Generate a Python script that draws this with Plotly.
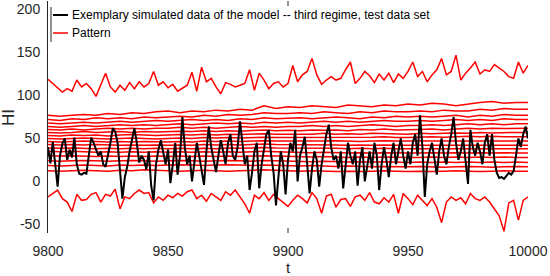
import plotly.graph_objects as go

# ---------------- data ----------------
t_black = list(range(9800, 10001))
black_values = [
    40, 21, 46, 20, -6, 30, 44, 50, 25, 37,
    28, 51, 20, 9, 8, 10, 9, 30, 51, 45,
    38, 30, 35, 20, 17, 30, 45, 62, 58, 45,
    14, -20, 5, 17, 35, 50, 62, 45, 22, 30,
    25, 14, 35, -5, -22, 20, 37, 48, 35, 20,
    37, -2, 20, 45, 8, 30, 75, 40, 20, 30,
    0, 25, 45, 30, 15, -4, 35, 64, 40, 25,
    11, 30, 48, 35, 20, 45, 55, 30, 25, 40,
    70, 45, 20, 30, -10, 10, 35, 45, -8, 20,
    40, 55, 60, 30, 10, -28, 5, 35, 20, -15,
    25, 45, 35, 60, 0, 30, 40, 52, 20, -14,
    15, 35, 25, -6, 20, 40, 55, 66, 40, 25,
    30, 15, 35, -8, 20, 45, 30, 20, 35, -5,
    25, 40, 0, 20, 35, 15, 45, 30, -10, 20,
    40, 25, 5, 30, 45, 20, 35, 50, 30, 15,
    35, 20, 45, 55, 30, 77, 40, -18, 20, 35,
    45, 25, 8, 35, 50, 30, 20, 40, 55, 75,
    45, 25, 35, 50, 20, -3, 60, 40, 30, 45,
    35, 20, 45, 55, 30, 55, 25, 10, 4, 5,
    3, 6, 10, 8, 12, 30, 50, 40, 55, 64,
    50,
]

t_step2 = list(range(9800, 10001, 2))
pattern_max = [
    119, 114, 108, 104, 108, 105, 118, 110, 114, 108,
    99, 112, 126, 110, 104, 112, 106, 115, 108, 116,
    110, 114, 128, 112, 116, 109, 113, 105, 108, 112,
    127, 105, 133, 116, 120, 110, 102, 115, 113, 110,
    112, 114, 130, 106, 126, 118, 108, 114, 116, 110,
    114, 135, 116, 124, 128, 143, 124, 113, 118, 122,
    118, 120, 130, 139, 114, 120, 128, 123, 115, 125,
    118, 126, 115, 125, 120, 128, 139, 122, 128, 116,
    124, 130, 143, 124, 128, 147, 118, 126, 132, 139,
    125, 130, 128, 136, 132, 128, 122, 120, 139, 126,
    135,
]
pattern_min = [
    -18, -14, -10, -20, -24, -35, -15, -22, -21, -15,
    -13, -24, -15, -17, -9, -32, -18, -20, -14, -10,
    -14, -13, -25, -18, -22, -16, -19, -14, -17, -12,
    -10, -20, -16, -23, -14, -18, -22, -12, -16, -10,
    -18, -26, -37, -16, -20, -13, -22, -15, -20, -24,
    -29, -22, -16, -20, -25, -13, -20, -37, -17, -15,
    -30, -21, -20, -29, -18, -16, -22, -13, -24, -26,
    -19, -24, -15, -37, -14, -20, -27, -16, -22, -28,
    -20, -30, -48, -24, -18, -22, -19, -26, -14, -20,
    -22, -18, -24, -32, -40, -58, -25, -22, -45, -22,
    -18,
]

t_step5 = list(range(9800, 10001, 5))
pattern_mid = [
    [77, 76, 77, 78, 77, 79, 78, 80, 79, 81, 82,
     80, 82, 81, 83, 82, 84, 83, 88, 85, 87,
     86, 88, 87, 86, 89, 88, 87, 89, 88, 90,
     89, 91, 90, 88, 90, 92, 93, 91, 92, 92],
    [72, 71, 73, 72, 74, 73, 74, 73, 75, 74, 75,
     76, 75, 77, 76, 78, 77, 78, 80, 79, 79,
     80, 79, 81, 80, 79, 81, 80, 82, 81, 81,
     82, 81, 83, 82, 82, 84, 83, 85, 84, 84],
    [68, 67, 68, 69, 68, 69, 70, 69, 70, 71, 70,
     71, 72, 71, 72, 71, 73, 72, 74, 73, 73.5,
     74, 73, 74, 75, 74, 73, 75, 74, 76, 75,
     76, 75, 76, 77, 75, 77, 76, 78, 77, 77],
    [64, 63, 64, 65, 64, 65, 66, 65, 66, 65, 66,
     67, 66, 67, 68, 67, 68, 67, 69, 68, 69,
     68, 69, 70, 69, 70, 69, 70, 71, 70, 70,
     71, 70, 71, 72, 71, 72, 71, 73, 72, 72],
    [60.5, 60, 61, 60, 61, 62, 61, 62, 61, 62, 62,
     63, 62, 63, 62, 63, 64, 63, 64, 63, 64,
     64, 65, 64, 65, 64, 65, 66, 65, 64, 65,
     65, 66, 65, 66, 67, 66, 67, 66, 67, 67],
    [57, 56.5, 57, 58, 57, 57.5, 58, 57, 58, 57.5, 58,
     58.5, 58, 59, 58, 59, 58.5, 59, 60, 59, 59.5,
     59, 60, 59.5, 60, 59, 60.5, 60, 61, 60, 60,
     60.5, 61, 60, 61, 62, 61, 62, 61.5, 62, 62],
    [53.5, 53, 54, 53.5, 54, 53, 54, 54.5, 54, 53.5, 54,
     54.5, 54, 55, 54, 55, 54.5, 55, 55.5, 55, 55,
     55.5, 55, 56, 55, 55.5, 55, 56, 55.5, 55, 55,
     56, 55.5, 56, 56.5, 56, 57, 56.5, 57, 57, 57],
    [50, 49.5, 50, 50.5, 50, 49.5, 50, 50.5, 50, 49.5, 50,
     50.5, 50, 51, 50.5, 51, 50.5, 51, 51.5, 51, 51,
     51.5, 51, 51.5, 51, 51.5, 51, 51.5, 52, 51, 51,
     51.5, 52, 51.5, 52, 52.5, 52, 52.5, 52, 52, 52],
    [46.5, 46, 46.5, 47, 46.5, 46, 46.5, 46, 46.5, 46, 46,
     46.5, 46, 47, 46.5, 47, 46.5, 47, 47.5, 47, 47,
     47, 46.5, 47, 47.5, 47, 46.5, 47, 47.5, 47, 47,
     47, 47.5, 47, 47.5, 47, 47.5, 47, 47.5, 47, 47],
    [43, 42.5, 43, 42.5, 43, 42.5, 42, 42.5, 42, 42.5, 42,
     42.5, 42, 43, 42.5, 43, 42.5, 43, 43.5, 43, 43,
     43, 42.5, 43, 42.5, 42, 42.5, 42, 42.5, 42, 42,
     42, 42.5, 42, 42.5, 42, 42.5, 42, 42.5, 42, 42],
    [39, 38.5, 39, 38.5, 38, 38.5, 38, 38.5, 38, 38.5, 38,
     38.5, 38, 38.5, 38, 39, 38.5, 39, 39.5, 39, 39,
     39, 38.5, 39, 38.5, 38, 38.5, 38, 38.5, 38, 38,
     38, 38.5, 38, 38.5, 38, 38.5, 38, 38.5, 38, 38],
    [35, 34.5, 35, 34.5, 34, 34.5, 34, 34.5, 34, 34.5, 34,
     34.5, 34, 34.5, 34, 34.5, 34, 34.5, 35, 34.5, 34,
     34, 33.5, 34, 33.5, 33, 33.5, 33, 33.5, 33, 33,
     33, 33.5, 33, 33.5, 33, 33.5, 33, 33.5, 33, 33],
    [30, 29.5, 30, 29.5, 29, 29.5, 29, 29.5, 29, 29.5, 29,
     29.5, 29, 29.5, 29, 29.5, 29, 29.5, 30, 29.5, 29,
     29, 28.5, 29, 28.5, 28, 28.5, 28, 28.5, 28, 28,
     28, 28.5, 28, 28.5, 28, 28.5, 28, 28.5, 28, 28],
    [24, 23.5, 24, 24.5, 24, 23.5, 24, 24.5, 24, 23.5, 24,
     24.5, 24, 23.5, 24, 24.5, 24, 23.5, 24.5, 24, 24,
     23.5, 23, 23.5, 23, 22.5, 23, 22.5, 23, 22.5, 22,
     22.5, 22, 22.5, 22, 22.5, 22, 22.5, 22, 22.5, 22],
    [18.5, 18, 18.5, 19, 18.5, 18, 19, 18.5, 19, 18.5, 19,
     19.5, 19, 18.5, 19, 19.5, 19, 18.5, 19, 18.5, 18.5,
     18, 18.5, 18, 17.5, 18, 17.5, 17, 17.5, 17, 17,
     17.5, 17, 16.5, 17, 17.5, 17, 16.5, 17, 17.5, 17],
    [12.5, 12, 12.5, 13, 12.5, 12, 13, 12.5, 13.5, 13, 12.5,
     12, 12.5, 13, 12.5, 12, 12.5, 13, 13.5, 13, 12.5,
     12, 12.5, 12, 11.5, 12, 11.5, 12, 12.5, 12, 11.5,
     12, 11.5, 12, 12.5, 12, 11.5, 12, 12.5, 12, 12],
]

y_tick_vals = [-50, 0, 50, 100, 150, 200]
x_tick_vals = [9800, 9850, 9900, 9950, 10000]
legend_labels = ["Exemplary simulated data of the model -- third regime, test data set", "Pattern"]

# ---------------- figure ----------------
RED = "#FF0000"
fig = go.Figure()

fig.add_trace(go.Scatter(x=t_step2, y=pattern_max, mode="lines",
                         line=dict(color=RED, width=1.5), hoverinfo="skip"))
fig.add_trace(go.Scatter(x=t_step2, y=pattern_min, mode="lines",
                         line=dict(color=RED, width=1.5), hoverinfo="skip"))
for row in pattern_mid:
    fig.add_trace(go.Scatter(x=t_step5, y=row, mode="lines",
                             line=dict(color=RED, width=1.5), hoverinfo="skip"))
fig.add_trace(go.Scatter(x=t_black, y=black_values, mode="lines",
                         line=dict(color="black", width=2), hoverinfo="skip"))

L, R, T, B = 48, 22, 1, 43
W, H = 550, 276
pw, ph = W - L - R, H - T - B


def px(x):
    return (x - L) / pw


def py(y):
    return (H - B - y) / ph


font_fam = "Liberation Sans, Arial, Helvetica, sans-serif"

fig.update_layout(
    width=W, height=H,
    margin=dict(l=L, r=R, t=T, b=B),
    paper_bgcolor="white", plot_bgcolor="white",
    showlegend=False,
    font=dict(family=font_fam, color="#262626", size=14),
    xaxis=dict(range=[9800, 10000], tickvals=x_tick_vals,
               ticktext=[str(v) for v in x_tick_vals],
               showgrid=False, zeroline=False, showline=False,
               ticks="outside", ticklen=5, tickcolor="rgba(0,0,0,0)",
               tickfont=dict(size=14, color="#262626")),
    yaxis=dict(range=[-60, 210], tickvals=y_tick_vals,
               ticktext=[str(v) for v in y_tick_vals],
               showgrid=False, zeroline=False, showline=True,
               linecolor="#262626", linewidth=1,
               ticks="outside", ticklen=4, tickcolor="rgba(0,0,0,0)",
               tickfont=dict(size=14, color="#262626")),
)

shapes = []
shapes.append(dict(type="line", xref="x", yref="paper", x0=9900, x1=9900,
                   y0=0, y1=5 / ph, line=dict(color="#262626", width=1)))
shapes.append(dict(type="line", xref="x", yref="paper", x0=9900, x1=9900,
                   y0=1, y1=1 - 5 / ph, line=dict(color="#262626", width=1)))
shapes.append(dict(type="line", xref="paper", yref="paper", x0=px(51), x1=px(51),
                   y0=py(7), y1=py(42), line=dict(color="#262626", width=1)))
shapes.append(dict(type="line", xref="paper", yref="paper", x0=px(53), x1=px(68),
                   y0=py(15), y1=py(15), line=dict(color="black", width=2)))
shapes.append(dict(type="line", xref="paper", yref="paper", x0=px(53), x1=px(68),
                   y0=py(33), y1=py(33), line=dict(color=RED, width=1.5)))
fig.update_layout(shapes=shapes)

annotations = [
    dict(text=legend_labels[0], xref="paper", yref="paper", x=px(70), y=py(15),
         xanchor="left", yanchor="middle", showarrow=False,
         font=dict(size=12, color="black", family=font_fam)),
    dict(text=legend_labels[1], xref="paper", yref="paper", x=px(70), y=py(33),
         xanchor="left", yanchor="middle", showarrow=False,
         font=dict(size=12, color="black", family=font_fam)),
    dict(text="HI", xref="paper", yref="paper", x=px(8), y=py(118), textangle=-90,
         xanchor="center", yanchor="middle", showarrow=False,
         font=dict(size=17, color="#262626", family=font_fam)),
    dict(text="t", xref="paper", yref="paper", x=px(288), y=py(267),
         xanchor="center", yanchor="middle", showarrow=False, borderpad=0,
         font=dict(size=15, color="#262626", family=font_fam)),
]
fig.update_layout(annotations=annotations)

fig.write_html("out.html",
               config={"displayModeBar": False},
               post_script="document.body.style.margin='0';document.body.style.overflow='hidden';")
